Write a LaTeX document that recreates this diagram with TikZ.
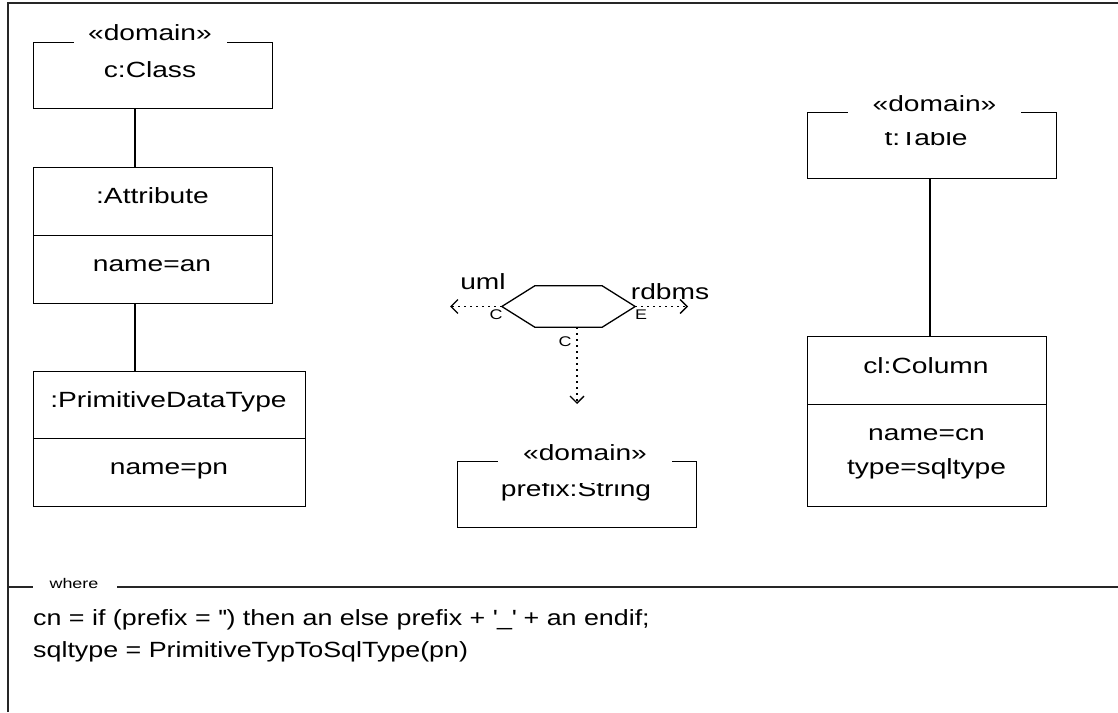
\documentclass[tikz,border=0pt]{standalone}
\usepackage{fontspec}
\setmainfont{Liberation Sans}[FakeStretch=1.28]
\newfontfamily\exprfont{Liberation Sans}[FakeStretch=1.22]
\usetikzlibrary{arrows.meta}
\begin{document}
\begin{tikzpicture}[x=1pt,y=-1pt,
  frame/.style={line width=1.8pt, draw=black!85},
  box/.style={draw, line width=1.3pt, rectangle, inner sep=0pt, anchor=north west},
  conn/.style={line width=1.3pt},
  lbl/.style={font=\fontsize{22}{26}\selectfont, inner sep=0pt, anchor=base},
  expr/.style={font=\exprfont\fontsize{22}{26}\selectfont, inner sep=0pt, anchor=base west},
  stereo/.style={font=\fontsize{22}{26}\selectfont, fill=white, inner sep=0pt, anchor=base, text height=17pt, text depth=20pt},
  small/.style={font=\fontsize{14}{16}\selectfont, inner sep=0pt},
  dep/.style={line width=1.3pt, dash pattern=on 1.5pt off 4.5pt, -{Straight Barb[length=7pt,width=14pt,line width=1.3pt]}}
]
\useasboundingbox (0,0) rectangle (1118,712);
% outer frame
\draw[frame] (8,712) -- (8,3) -- (1118,3);
\draw[frame] (8,587) -- (33,587);
\draw[frame] (117,587) -- (1118,587);
\node[small, anchor=base] (where) at (74,588) {where};

% c:Class
\node[box, minimum width=239pt, minimum height=66pt] (cls) at (33,42) {};
\node[stereo, minimum width=153pt] (clsst) at (150,40.5) {«domain»};
\node[lbl] (clsname) at (150,77) {c:Class};

% :Attribute
\node[box, minimum width=239pt, minimum height=68pt] (atth) at (33,167) {};
\node[box, minimum width=239pt, minimum height=68pt] (attb) at (33,235) {};
\node[lbl] (attname) at (152.5,203) {:Attribute};
\node[lbl] (attval) at (152,271) {name=an};

% :PrimitiveDataType
\node[box, minimum width=272pt, minimum height=67pt] (pdth) at (33,371) {};
\node[box, minimum width=272pt, minimum height=68pt] (pdtb) at (33,438) {};
\node[lbl] (pdtname) at (168.5,407) {:PrimitiveDataType};
\node[lbl] (pdtval) at (169,474) {name=pn};

\draw[conn] ([xshift=102pt]cls.south west) -- ([xshift=102pt]atth.north west);
\draw[conn] ([xshift=102pt]attb.south west) -- ([xshift=102pt]pdth.north west);

% t:Table
\node[box, minimum width=249pt, minimum height=66pt] (tbl) at (807,112) {};
\node[lbl] (tblname) at (926,145) {t:Table};
\node[stereo, minimum width=172.4pt] (tblst) at (934.5,111.5) {«domain»};

% cl:Column
\node[box, minimum width=239pt, minimum height=68pt] (colh) at (807,336) {};
\node[box, minimum width=239pt, minimum height=102pt] (colb) at (807,404) {};
\node[lbl] (colname) at (926,373) {cl:Column};
\node[lbl] (colv1) at (926.5,440) {name=cn};
\node[lbl] (colv2) at (926.5,474) {type=sqltype};

\draw[conn] ([xshift=123pt]tbl.south west) -- ([xshift=123pt]colh.north west);

% prefix:String
\node[box, minimum width=239pt, minimum height=66pt] (pre) at (457,461) {};
\node[lbl] (prename) at (576,496) {prefix:String};
\node[stereo, minimum width=173.4pt, text depth=23pt] (prest) at (585,460) {«domain»};

% relation hexagon
\node[minimum width=133pt, minimum height=41pt, inner sep=0pt] (rel) at (568.5,306.5) {};
\draw[conn] (rel.west) -- ([xshift=33pt]rel.north west) -- ([xshift=-33pt]rel.north east)
  -- (rel.east) -- ([xshift=-33pt]rel.south east) -- ([xshift=33pt]rel.south west) -- cycle;

\coordinate (umlEnd) at (450,306.5);
\coordinate (rdbEnd) at (688,306.5);
\coordinate (domEnd) at (577,404);
\draw[dep] (rel.west) -- (umlEnd);
\draw[dep] (rel.east) -- (rdbEnd);
\draw[dep] ([xshift=8.5pt]rel.south) -- (domEnd);

\node[lbl] (uml) at (483,289) {uml};
\node[lbl] (rdbms) at (670,299) {rdbms};
\node[small] (cl) at (496,315) {C};
\node[small] (er) at (641,315) {E};
\node[small] (cd) at (565,342) {C};

% where clause
\node[expr] (e1) at (33,625) {cn = if (prefix = \textquotesingle\textquotesingle) then an else prefix + \textquotesingle\_\textquotesingle{} + an endif;};
\node[expr] (e2) at (33,657) {sqltype = PrimitiveTypToSqlType(pn)};
\end{tikzpicture}
\end{document}
